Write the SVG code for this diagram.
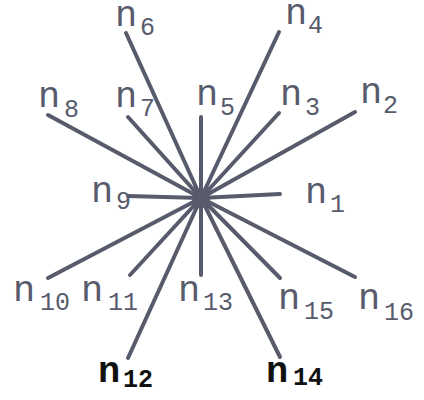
<svg xmlns="http://www.w3.org/2000/svg" width="424" height="400" viewBox="0 0 424 400">
<style>
.e{stroke:#575b6c;stroke-width:4;stroke-linecap:round;fill:none}
.n{font-family:"Liberation Mono",monospace;font-size:37px;fill:#575b6c}
.s{font-family:"Liberation Mono",monospace;font-size:25px;fill:#575b6c}
.b{fill:#111;font-weight:bold}
</style>
<rect width="424" height="400" fill="#fff"/>
<g id="connectors">
<line class="e" x1="201" y1="198" x2="280" y2="194"/>
<line class="e" x1="201" y1="198" x2="355" y2="112"/>
<line class="e" x1="201" y1="198" x2="279" y2="113"/>
<line class="e" x1="201" y1="198" x2="279" y2="32"/>
<line class="e" x1="201" y1="198" x2="201" y2="117"/>
<line class="e" x1="201" y1="198" x2="126" y2="33"/>
<line class="e" x1="201" y1="198" x2="128" y2="117"/>
<line class="e" x1="201" y1="198" x2="48" y2="115"/>
<line class="e" x1="201" y1="198" x2="128" y2="196"/>
<line class="e" x1="201" y1="198" x2="48" y2="278"/>
<line class="e" x1="201" y1="198" x2="130" y2="275"/>
<line class="e" x1="201" y1="198" x2="128" y2="358"/>
<line class="e" x1="201" y1="198" x2="201" y2="275"/>
<line class="e" x1="201" y1="198" x2="280" y2="357"/>
<line class="e" x1="201" y1="198" x2="280" y2="278"/>
<line class="e" x1="201" y1="198" x2="355" y2="277"/>
<circle cx="201" cy="199" r="9" fill="#575b6c"/>
</g>
<g id="n1"><text class="n" x="305" y="203">n</text><text class="s" x="330" y="212">1</text></g>
<g id="n2"><text class="n" x="360" y="103">n</text><text class="s" x="383" y="113">2</text></g>
<g id="n3"><text class="n" x="280" y="105">n</text><text class="s" x="305" y="115">3</text></g>
<g id="n4"><text class="n" x="285" y="24">n</text><text class="s" x="308" y="33">4</text></g>
<g id="n5"><text class="n" x="196" y="105">n</text><text class="s" x="220" y="115">5</text></g>
<g id="n6"><text class="n" x="115" y="26">n</text><text class="s" x="140" y="35">6</text></g>
<g id="n7"><text class="n" x="115" y="107">n</text><text class="s" x="140" y="116">7</text></g>
<g id="n8"><text class="n" x="38" y="107">n</text><text class="s" x="64" y="117">8</text></g>
<g id="n9"><text class="n" x="91" y="202">n</text><text class="s" x="116" y="209">9</text></g>
<g id="n10"><text class="n" x="13" y="301">n</text><text class="s" x="40" y="310">10</text></g>
<g id="n11"><text class="n" x="81" y="301">n</text><text class="s" x="108" y="310">11</text></g>
<g id="n12"><text class="n b" x="98" y="382">n</text><text class="s b" x="123" y="387">12</text></g>
<g id="n13"><text class="n" x="178" y="301">n</text><text class="s" x="203" y="310">13</text></g>
<g id="n14"><text class="n b" x="266" y="382">n</text><text class="s b" x="293" y="385">14</text></g>
<g id="n15"><text class="n" x="278" y="309">n</text><text class="s" x="304" y="319">15</text></g>
<g id="n16"><text class="n" x="358" y="309">n</text><text class="s" x="384" y="320">16</text></g>
</svg>
